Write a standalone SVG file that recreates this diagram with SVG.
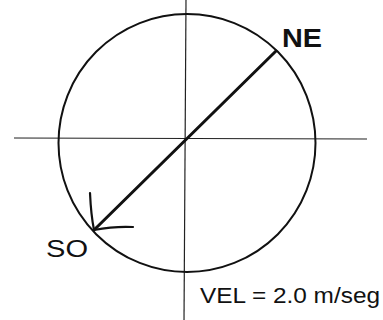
<svg xmlns="http://www.w3.org/2000/svg" width="383" height="320" viewBox="0 0 383 320">
<style>
.axis{stroke:#222;stroke-width:1.2;fill:none}
.circ{stroke:#111;stroke-width:2;fill:none}
.arrow{stroke:#111;stroke-width:3;fill:none;stroke-linecap:round}
.head{stroke:#111;stroke-width:2.2;fill:none;stroke-linecap:round}
.t{font-family:"Liberation Sans",Arial,sans-serif;fill:#111}
</style>
<rect width="383" height="320" fill="#fff"/>
<g id="connectors">
<line class="axis" x1="14" y1="138" x2="367" y2="139"/>
<line class="axis" x1="186" y1="0" x2="184" y2="320"/>
<path class="arrow" d="M276 51 L94 230"/>
<path class="head" d="M90 193 Q91 215 94 230 Q115 226 133 227"/>
</g>
<g id="circle">
<ellipse class="circ" cx="187" cy="143" rx="128.5" ry="129"/>
</g>
<g id="label-ne">
<text class="t" x="282" y="47" font-size="25" font-weight="bold" textLength="40" lengthAdjust="spacingAndGlyphs">NE</text>
</g>
<g id="label-so">
<text class="t" x="46" y="257" font-size="23" textLength="42" lengthAdjust="spacingAndGlyphs">SO</text>
</g>
<g id="label-vel">
<text class="t" x="200" y="303" font-size="22" textLength="180" lengthAdjust="spacingAndGlyphs">VEL = 2.0 m/seg</text>
</g>
</svg>
